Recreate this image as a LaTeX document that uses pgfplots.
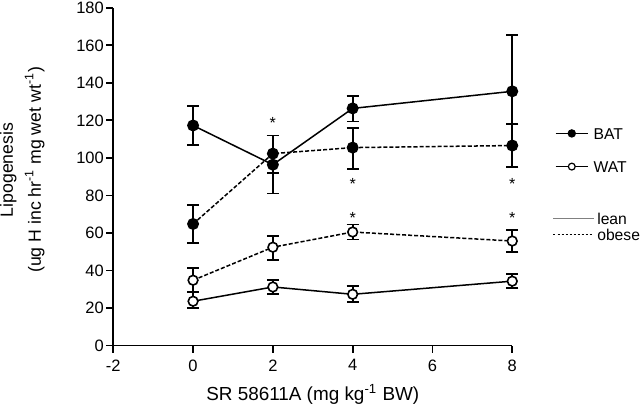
\documentclass[border=0pt]{standalone}
\usepackage{fontspec}
\setmainfont{Liberation Sans}
\usepackage{pgfplots}
\pgfplotsset{compat=1.18}
\begin{document}
\begin{tikzpicture}
\pgfplotsset{
  ebar/.style={error bars/.cd, y dir=both, y explicit,
    error bar style={line width=0.9pt, solid, black},
    error mark=-, error mark options={rotate=90, mark size=3pt, line width=0.9pt, solid, black}},
  obese/.style={dash pattern=on 2pt off 1pt},
  fullmk/.style={mark=*, mark size=2.6pt, mark options={solid, fill=black}},
  openmk/.style={mark=*, mark size=2.4pt, mark options={solid, fill=white, line width=0.8pt}},
}
\begin{axis}[
  scale only axis, width=198.5pt, height=168pt,
  xmin=-2, xmax=8, ymin=0, ymax=180,
  axis lines*=left, axis line style={line width=0.9pt},
  xtick={-2,0,...,8}, ytick={0,20,...,180},
  tick align=outside, major tick length=3.5pt, tick style={line width=0.9pt, black},
  ticklabel style={font=\fontsize{8.2}{10}\selectfont},
  yticklabel style={inner sep=1pt},
  /pgf/number format/assume math mode=true,
  xlabel={SR 58611A (mg kg\textsuperscript{-1} BW)},
  xlabel style={at={(rel axis cs:0.5,0)}, anchor=base, yshift=-27.5pt, font=\fontsize{9.4}{12}\selectfont},
  ylabel={Lipogenesis\\(ug H inc hr\textsuperscript{-1} mg wet wt\textsuperscript{-1})},
  ylabel style={at={(rel axis cs:-0.228,0.52)}, anchor=center, align=center, inner sep=0pt,
    font=\fontsize{8.8}{14}\selectfont},
  clip=false,
  legend style={draw=none, fill=none, inner sep=0pt, at={(rel axis cs:1.106,0.579)}, anchor=west,
    font=\fontsize{7.8}{9}\selectfont, nodes={inner sep=0pt, text height=6pt, text depth=0pt}, row sep=10.5pt,
    column sep=2.5pt},
  legend cell align=left,
  legend image code/.code={\draw[mark repeat=2, mark phase=2, #1] plot coordinates {(0pt,0pt) (8pt,0pt) (16pt,0pt)};},
]
\addlegendimage{black, line width=0.75pt, mark=*, mark size=1.7pt, mark options={fill=black}}
\addlegendentry{BAT}
\addlegendimage{black, line width=0.75pt, mark=*, mark size=1.7pt, mark options={fill=white, line width=0.6pt}}
\addlegendentry{WAT}
% BAT lean
\addplot[forget plot, black, line width=0.75pt, fullmk, ebar] coordinates {
 (0,117.3) += (0,10.2) -= (0,10.3)
 (2,96.4) += (0,15.6) -= (0,15.4)
 (4,126.4) += (0,6.6) -= (0,7.0)
 (8,135.5) += (0,30.0) -= (0,17.5)
};
% BAT obese
\addplot[forget plot, black, line width=0.75pt, obese, fullmk, ebar] coordinates {
 (0,64.8) += (0,10.0) -= (0,10.0)
 (2,102.3) += (0,9.7) -= (0,10.3)
 (4,105.5) += (0,10.5) -= (0,11.5)
 (8,106.6) += (0,11.4) -= (0,11.6)
};
% WAT lean
\addplot[forget plot, black, line width=0.75pt, openmk, ebar] coordinates {
 (0,23.6) += (0,4.8) -= (0,3.8)
 (2,31.2) += (0,3.8) -= (0,3.8)
 (4,27.3) += (0,4.3) -= (0,4.3)
 (8,34.3) += (0,3.8) -= (0,3.8)
};
% WAT obese
\addplot[forget plot, black, line width=0.75pt, obese, openmk, ebar] coordinates {
 (0,34.8) += (0,6.5) -= (0,6.4)
 (2,52.4) += (0,6.0) -= (0,6.9)
 (4,60.5) += (0,4.0) -= (0,4.0)
 (8,55.7) += (0,6.0) -= (0,6.0)
};
% significance marks
\addplot[draw=none, forget plot, nodes near coords, point meta=explicit symbolic,
  nodes near coords style={anchor=center, yshift=-1.5pt, font=\fontsize{8}{9}\selectfont}] coordinates {
 (2,120.5) [*]
 (4,87.8) [*]
 (8,87.8) [*]
 (4,69.6) [*]
 (8,69.6) [*]
};
\end{axis}
\begin{axis}[
  scale only axis, width=198.5pt, height=168pt,
  xmin=-2, xmax=8, ymin=0, ymax=180, hide axis,
  legend style={draw=none, fill=none, inner sep=0pt, at={(rel axis cs:1.1008,0.352)}, anchor=west,
    font=\fontsize{7.8}{9}\selectfont, nodes={inner sep=0pt, text height=5.5pt, text depth=0pt}, row sep=2.5pt,
    column sep=1.5pt},
  legend cell align=left,
  legend image code/.code={\draw[#1] (0pt,0pt) -- (20pt,0pt);},
]
\addlegendimage{gray, line width=0.6pt}
\addlegendentry{lean}
\addlegendimage{black, line width=0.6pt, dash pattern=on 1pt off 1pt}
\addlegendentry{obese}
\end{axis}
\end{tikzpicture}
\end{document}
